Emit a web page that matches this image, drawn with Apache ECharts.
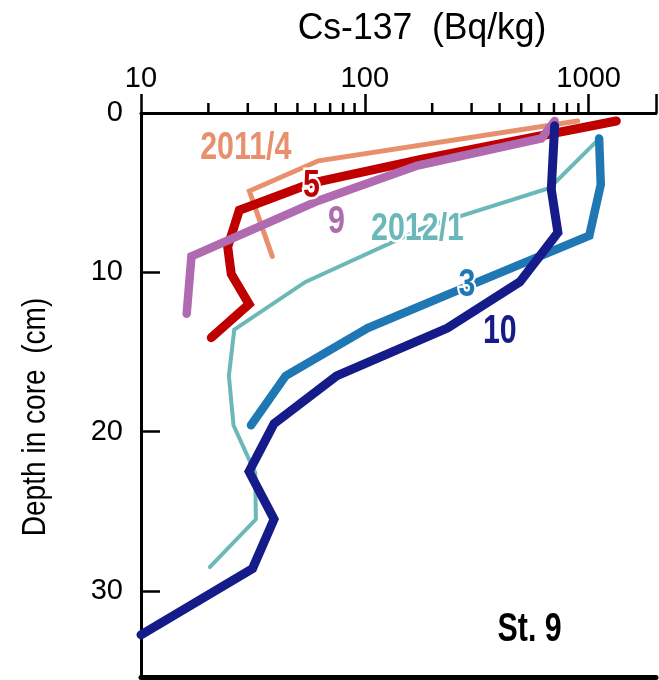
<!DOCTYPE html>
<html>
<head>
<meta charset="utf-8">
<script src="https://cdn.jsdelivr.net/npm/echarts@6/dist/echarts.min.js"></script>
<style>
html,body{margin:0;padding:0;background:#fff;}
#chart{width:659px;height:680px;}
</style>
</head>
<body>
<div id="chart"></div>
<script>
// ---- data (Cs-137 in Bq/kg vs depth in cm) ----
var apr2011X = [893, 62, 30.5, 38.6];
var apr2011D = [0.5, 3.0, 4.9, 9.0];

var may2011X = [1330, 180, 58, 27.5, 24.4, 25.3, 30.4, 20.6];
var may2011D = [0.5, 2.9, 4.4, 6.1, 8.4, 10.1, 12.0, 14.1];

var sep2011X = [705, 615, 172, 62, 16.8, 16.0];
var sep2011D = [0.5, 1.6, 3.3, 5.5, 9.0, 12.6];

var jan2012X = [1098, 670, 184, 54.3, 26.1, 24.7, 25.9, 32.4, 32.6, 20.3];
var jan2012D = [1.7, 4.7, 7.2, 10.6, 13.6, 16.5, 19.6, 22.6, 25.5, 28.5];

var mar2012X = [1114, 1133, 1007, 296, 103, 44.3, 31.0];
var mar2012D = [1.6, 4.5, 7.7, 10.8, 13.5, 16.5, 19.6];

var oct2012X = [705, 681, 729, 493, 234, 74.8, 39.3, 30.4, 39.3, 31.5, 10.0];
var oct2012D = [0.8, 4.8, 7.5, 10.6, 13.5, 16.5, 19.5, 22.5, 25.5, 28.6, 32.75];

var xTickLabels = ['10', '100', '1000'];
var yTickLabels = ['0', '10', '20', '30'];
var minorTickValues = [20, 30, 40, 50, 60, 70, 80, 90, 200, 300, 400, 500, 600, 700, 800, 900];

var labelTexts = ['2011/4', '5', '9', '2012/1', '3', '10', 'St. 9'];
var labelX = [29.4, 57.8, 74.7, 172, 286, 401, 545];
var labelD = [2.2, 4.6, 6.9, 7.3, 10.8, 13.7, 32.4];
var labelColors = ['#E8906E', '#C00000', '#B06AB0', '#6CB8B8', '#1F78B4', '#161B8A', '#000000'];

// ---- build ----
function pairs(xs, ds) { return xs.map(function (v, i) { return [v, ds[i]]; }); }

var numFont = "'Liberation Sans', Arial, sans-serif";

function lineSeries(name, xs, ds, color, width) {
  return {
    name: name, type: 'line', data: pairs(xs, ds),
    symbol: 'none', silent: true, clip: true,
    lineStyle: { color: color, width: width, cap: 'round', join: 'miter' }
  };
}

var chart = echarts.init(document.getElementById('chart'), null, { renderer: 'canvas' });
chart.setOption({
  animation: false,
  backgroundColor: '#ffffff',
  grid: { left: 141, top: 113, width: 520, height: 564, containLabel: false },
  xAxis: [{
    type: 'log', logBase: 10, min: 10, max: 2000, position: 'top',
    axisLine: { show: true, lineStyle: { color: '#000', width: 3 } },
    axisTick: { show: true, inside: false, length: 19, lineStyle: { color: '#000', width: 2.5 } },
    axisLabel: {
      show: true, margin: 20, color: '#000', fontSize: 29, fontFamily: numFont,
      formatter: function (v) { var s = String(Math.round(v)); return xTickLabels.indexOf(s) >= 0 ? s : ''; }
    },
    splitLine: { show: false }, minorTick: { show: false }
  }, {
    type: 'log', logBase: 10, min: 10, max: 2000, position: 'bottom',
    axisLine: { show: true, onZero: false, lineStyle: { color: '#000', width: 5 } },
    axisTick: { show: false }, axisLabel: { show: false }, splitLine: { show: false }
  }],
  yAxis: {
    type: 'value', inverse: true, min: 0, max: 35.4, interval: 10,
    axisLine: { show: true, onZero: false, lineStyle: { color: '#000', width: 3 } },
    axisTick: { show: true, inside: true, length: 19, lineStyle: { color: '#000', width: 2.5 } },
    axisLabel: {
      margin: 18, color: '#000', fontSize: 29, fontFamily: numFont, showMaxLabel: false,
      formatter: function (v) { var s = String(Math.round(v)); return (Math.abs(v - Math.round(v)) < 1e-6 && yTickLabels.indexOf(s) >= 0) ? s : ''; }
    },
    splitLine: { show: false }
  },
  graphic: [{
    type: 'text', x: 422, y: 29, scaleX: 0.96,
    style: { text: 'Cs-137  (Bq/kg)', fontSize: 37, fontFamily: numFont, fill: '#000',
      align: 'center', verticalAlign: 'middle' }
  }, {
    type: 'text', x: 36, y: 417, rotation: Math.PI / 2, scaleX: 0.85,
    style: { text: 'Depth in core  (cm)', fontSize: 33, fontFamily: numFont, fill: '#000',
      align: 'center', verticalAlign: 'middle' }
  }],
  series: [
    {
      name: 'minorTicks', type: 'custom', silent: true, clip: false,
      data: minorTickValues.map(function (v) { return [v, 0]; }),
      renderItem: function (params, api) {
        var p = api.coord([api.value(0), 0]);
        return { type: 'line', shape: { x1: p[0], y1: p[1], x2: p[0], y2: p[1] - 10 },
          style: { stroke: '#000', lineWidth: 2.5 } };
      }
    },
    lineSeries('2011/4', apr2011X, apr2011D, '#E8906E', 5),
    lineSeries('2012/1', jan2012X, jan2012D, '#6CB8B8', 4),
    lineSeries('2011/5', may2011X, may2011D, '#C00000', 9),
    lineSeries('2011/9', sep2011X, sep2011D, '#B06AB0', 8.5),
    lineSeries('2012/3', mar2012X, mar2012D, '#1F78B4', 8.5),
    lineSeries('2012/10', oct2012X, oct2012D, '#161B8A', 9),
    {
      name: 'labels', type: 'custom', silent: true, clip: false, z: 10,
      data: labelTexts.map(function (t, i) { return [labelX[i], labelD[i], i]; }),
      renderItem: function (params, api) {
        var i = api.value(2);
        var p = api.coord([api.value(0), api.value(1)]);
        var t = labelTexts[i];
        var big = (t === 'St. 9' || t === '10');
        return {
          type: 'text', x: p[0], y: p[1], scaleX: big ? 0.74 : 0.8,
          style: {
            text: t, fill: labelColors[i], stroke: '#fff', lineWidth: t === 'St. 9' ? 0 : 5,
            strokeFirst: true,
            font: 'bold ' + (big ? 41 : 38) + 'px ' + numFont,
            align: 'center', verticalAlign: 'middle'
          }
        };
      }
    }
  ]
});
</script>
</body>
</html>
